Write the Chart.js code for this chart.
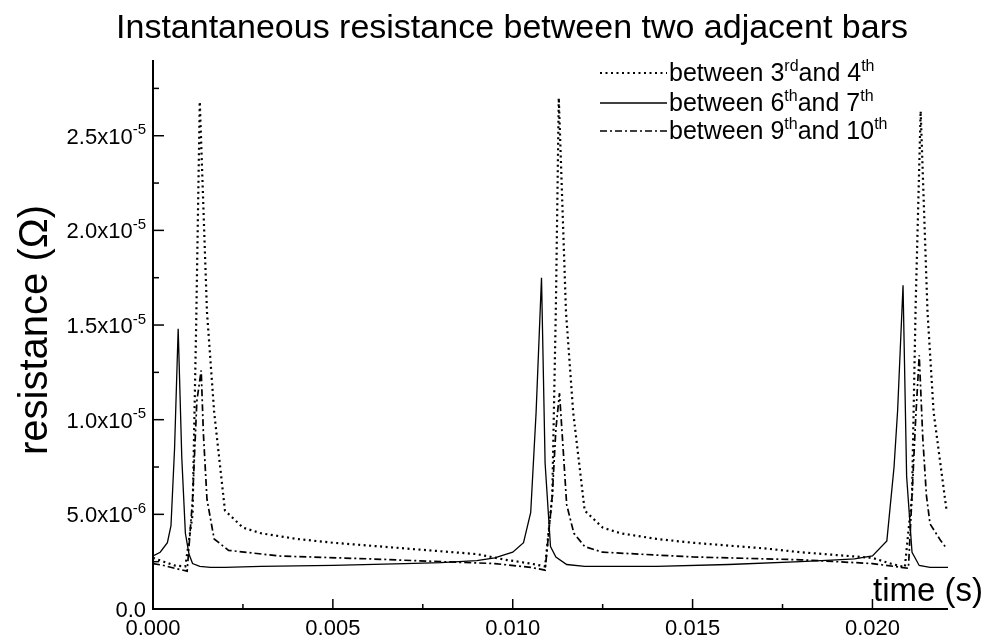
<!DOCTYPE html>
<html>
<head>
<meta charset="utf-8">
<script src="https://cdn.jsdelivr.net/npm/chart.js@4.4.1/dist/chart.umd.min.js"></script>
<style>
  body { margin: 0; background: #fff; }
  #wrap { width: 987px; height: 644px; position: relative; }
</style>
</head>
<body>
<div id="wrap"><canvas id="myChart"></canvas></div>
<script>
const chartTitle = "Instantaneous resistance between two adjacent bars";
const yTitle = "resistance (\u03A9)";
const xTitle = "time (s)";

// legend text pieces: normal, superscript, normal, superscript
const legendParts = [
    ["between 3", "rd", "and 4", "th"],
    ["between 6", "th", "and 7", "th"],
    ["between 9", "th", "and 10", "th"]
];

// axis ranges and steps
const xMax = 0.0221;
const yMax = 2.9e-5;
const xStep = 0.0025;
const yStep = 2.5e-6;

// time (s) and resistance (in 1e-6 ohm) for each curve
const t34 = [0, 0.0003, 0.0006, 0.0009, 0.0011, 0.0012, 0.0013, 0.0015, 0.0017, 0.0020, 0.0025, 0.003, 0.004, 0.005, 0.006, 0.007, 0.008, 0.009, 0.0098, 0.0105, 0.0109, 0.0111, 0.0112, 0.01128, 0.01148, 0.01168, 0.0120, 0.0125, 0.013, 0.014, 0.015, 0.016, 0.017, 0.018, 0.019, 0.020, 0.0205, 0.0209, 0.0211, 0.0212, 0.02134, 0.02153, 0.0217, 0.02206];
const r34 = [2.7, 2.5, 2.3, 2.25, 5.0, 15.0, 26.8, 15.7, 10.4, 5.2, 4.3, 4.0, 3.7, 3.5, 3.35, 3.2, 3.05, 2.9, 2.6, 2.4, 2.25, 6.0, 16.0, 27.0, 15.7, 10.4, 5.2, 4.3, 4.0, 3.7, 3.5, 3.35, 3.2, 3.0, 2.85, 2.7, 2.4, 2.2, 6.0, 16.0, 26.3, 15.7, 10.4, 5.2];

const t67 = [0, 0.0002, 0.0004, 0.0005, 0.0006, 0.0007, 0.0008, 0.0009, 0.0010, 0.0011, 0.0013, 0.0016, 0.002, 0.003, 0.005, 0.007, 0.008, 0.009, 0.0095, 0.0100, 0.0103, 0.0105, 0.01065, 0.0108, 0.0109, 0.01105, 0.0112, 0.0115, 0.012, 0.014, 0.016, 0.018, 0.019, 0.0195, 0.0200, 0.0204, 0.0206, 0.0207, 0.02085, 0.02095, 0.0211, 0.0213, 0.0216, 0.0221];
const r67 = [2.8, 3.0, 3.5, 4.4, 8.5, 14.8, 8.0, 4.0, 2.9, 2.4, 2.25, 2.2, 2.2, 2.25, 2.3, 2.4, 2.45, 2.55, 2.7, 3.0, 3.5, 5.1, 10.4, 17.5, 7.7, 3.3, 2.75, 2.35, 2.25, 2.25, 2.35, 2.5, 2.6, 2.65, 2.8, 3.6, 7.5, 10.5, 17.1, 7.0, 3.0, 2.3, 2.2, 2.2];

const t910 = [0, 0.0003, 0.0006, 0.00095, 0.0011, 0.00122, 0.00134, 0.0014, 0.0015, 0.0017, 0.0021, 0.0035, 0.006, 0.008, 0.0095, 0.0105, 0.0109, 0.0111, 0.0112, 0.0113, 0.0114, 0.0115, 0.0117, 0.0120, 0.0125, 0.015, 0.018, 0.020, 0.0210, 0.0211, 0.0212, 0.0213, 0.0214, 0.0215, 0.0216, 0.0219, 0.02206];
const r910 = [2.4, 2.3, 2.15, 2.0, 5.8, 11.0, 12.6, 9.3, 5.8, 3.7, 3.1, 2.8, 2.65, 2.5, 2.4, 2.2, 2.05, 6.0, 9.5, 11.4, 8.5, 5.5, 4.0, 3.3, 3.0, 2.75, 2.6, 2.4, 2.15, 6.0, 10.0, 13.4, 9.0, 6.0, 4.5, 3.6, 3.2];

function toPoints(ts, rs) {
    return ts.map((t, i) => ({ x: t, y: rs[i] * 1e-6 }));
}

const FONT = '"Liberation Sans", Arial, sans-serif';

// draws text with superscript pieces, returns the width
function drawRich(ctx, parts, x, y, size, supSize, measureOnly) {
    let cx = x;
    parts.forEach((p, i) => {
        const sup = i % 2 === 1;
        ctx.font = (sup ? supSize : size) + "px " + FONT;
        if (!measureOnly) ctx.fillText(p, cx, sup ? y - size * 0.42 : y);
        cx += ctx.measureText(p).width;
    });
    return cx - x;
}

function onStep(v, step) {
    const k = Math.round(v / step);
    return Math.abs(v - k * step) < step * 1e-6 ? k : null;
}

const decorations = {
    id: "decorations",
    afterDraw(chart) {
        const ctx = chart.ctx;
        const a = chart.chartArea;
        const xs = chart.scales.x;
        const ys = chart.scales.y;
        ctx.save();
        ctx.strokeStyle = "#000";
        ctx.fillStyle = "#000";
        ctx.setLineDash([]);
        ctx.textBaseline = "alphabetic";

        // axis lines
        ctx.lineWidth = 2;
        ctx.beginPath();
        ctx.moveTo(a.left, a.top);
        ctx.lineTo(a.left, a.bottom);
        ctx.lineTo(a.right, a.bottom);
        ctx.stroke();

        // x ticks and labels
        ctx.lineWidth = 1.5;
        xs.ticks.forEach(tk => {
            const k = onStep(tk.value, xStep);
            if (k === null) return;
            const px = xs.getPixelForValue(tk.value);
            const major = k % 2 === 0;
            ctx.beginPath();
            ctx.moveTo(px, a.bottom);
            ctx.lineTo(px, a.bottom - (major ? 10 : 5));
            ctx.stroke();
            if (major) {
                ctx.font = "22px " + FONT;
                ctx.textAlign = "center";
                ctx.fillText((k * xStep).toFixed(3), px, a.bottom + 26);
            }
        });

        // y ticks and labels
        ys.ticks.forEach(tk => {
            const k = onStep(tk.value, yStep);
            if (k === null) return;
            const py = ys.getPixelForValue(tk.value);
            const major = k % 2 === 0;
            ctx.beginPath();
            ctx.moveTo(a.left, py);
            ctx.lineTo(a.left + (major ? 11 : 6), py);
            ctx.stroke();
            if (major) {
                const v = k * yStep;
                let parts;
                if (k === 0) {
                    parts = ["0.0"];
                } else {
                    const e = Math.floor(Math.log10(v) + 1e-9);
                    const m = v / Math.pow(10, e);
                    parts = [m.toFixed(1) + "x10", "-" + Math.abs(e)];
                }
                ctx.textAlign = "left";
                const w = drawRich(ctx, parts, 0, 0, 22, 15, true);
                drawRich(ctx, parts, a.left - 7 - w, py + 8, 22, 15, false);
            }
        });

        // title
        ctx.textAlign = "center";
        ctx.font = "34px " + FONT;
        ctx.fillText(chartTitle, 512, 38);

        // x title inside plot
        ctx.textAlign = "left";
        ctx.font = "33px " + FONT;
        ctx.fillText(xTitle, 873, 601);

        // y title
        ctx.save();
        ctx.translate(47, 330);
        ctx.rotate(-Math.PI / 2);
        ctx.textAlign = "center";
        ctx.font = "40px " + FONT;
        ctx.fillText(yTitle, 0, 0);
        ctx.restore();

        // legend
        const rows = [73, 103, 131];
        chart.data.datasets.forEach((ds, i) => {
            const y = rows[i];
            ctx.strokeStyle = "#000";
            ctx.lineWidth = ds.borderWidth;
            ctx.setLineDash(ds.borderDash || []);
            ctx.beginPath();
            ctx.moveTo(600, y);
            ctx.lineTo(667, y);
            ctx.stroke();
            ctx.setLineDash([]);
            ctx.textAlign = "left";
            drawRich(ctx, legendParts[i], 669, y + 8, 25, 16, false);
        });
        ctx.restore();
    }
};

const ctx = document.getElementById("myChart").getContext("2d");
const myChart = new Chart(ctx, {
    type: "line",
    data: {
        datasets: [
            {
                label: "between 3rd and 4th",
                data: toPoints(t34, r34),
                borderColor: "#000",
                borderWidth: 2.2,
                borderDash: [2, 3.5]
            },
            {
                label: "between 6th and 7th",
                data: toPoints(t67, r67),
                borderColor: "#000",
                borderWidth: 1.3
            },
            {
                label: "between 9th and 10th",
                data: toPoints(t910, r910),
                borderColor: "#000",
                borderWidth: 1.7,
                borderDash: [7, 3, 2, 3]
            }
        ]
    },
    options: {
        responsive: true,
        maintainAspectRatio: false,
        animation: false,
        layout: { padding: { left: 153, top: 60, right: 39, bottom: 35 } },
        elements: { point: { radius: 0 }, line: { tension: 0 } },
        plugins: {
            legend: { display: false },
            tooltip: { enabled: false },
            title: { display: false }
        },
        scales: {
            x: {
                type: "linear",
                min: 0,
                max: xMax,
                ticks: { display: false, stepSize: xStep },
                grid: { display: false, drawTicks: false },
                border: { display: false }
            },
            y: {
                min: 0,
                max: yMax,
                ticks: { display: false, stepSize: yStep },
                grid: { display: false, drawTicks: false },
                border: { display: false }
            }
        }
    },
    plugins: [decorations]
});
</script>
</body>
</html>
